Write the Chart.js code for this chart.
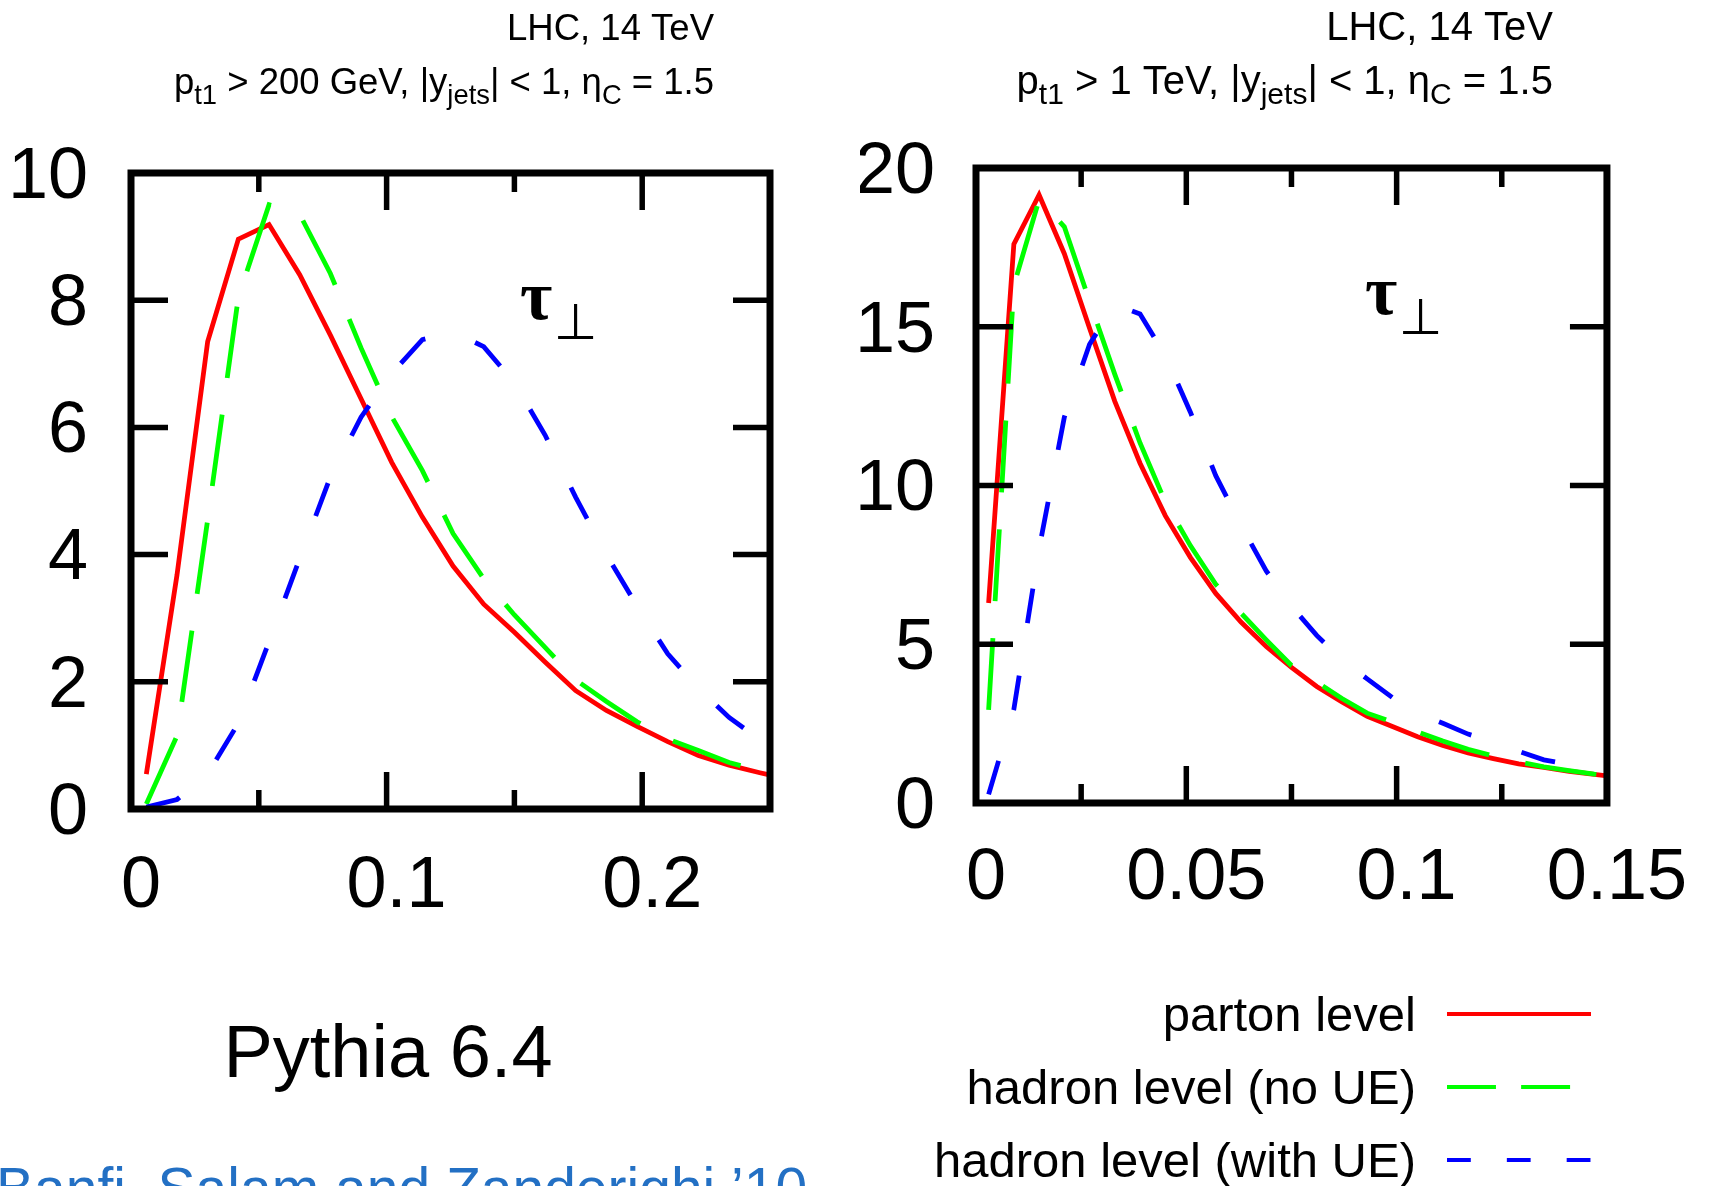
<!DOCTYPE html>
<html>
<head>
<meta charset="utf-8">
<script src="https://cdn.jsdelivr.net/npm/chart.js@4.4.1/dist/chart.umd.min.js"></script>
<style>
  html, body { margin: 0; padding: 0; background: #fff; }
  body { width: 1710px; height: 1186px; position: relative; overflow: hidden; }
  canvas { position: absolute; top: 0; }
  #chartLow { left: 0; }
  #chartHigh { left: 860px; }
</style>
</head>
<body>
<canvas id="chartLow" width="860" height="1186"></canvas>
<canvas id="chartHigh" width="850" height="1186"></canvas>
<script>
// --- values (bin centres on x) ---

// p_t1 > 200 GeV
const tauLow = [0.006, 0.018, 0.030, 0.042, 0.054, 0.066, 0.078, 0.090, 0.102, 0.114, 0.126,
  0.138, 0.150, 0.162, 0.174, 0.186, 0.198, 0.210, 0.222, 0.234, 0.246, 0.258];
const partonLow = [0.55, 3.68, 7.35, 8.96, 9.19, 8.40, 7.45, 6.45, 5.45, 4.59, 3.82,
  3.22, 2.78, 2.31, 1.86, 1.55, 1.30, 1.06, 0.84, 0.69, 0.57, 0.46];
const hadronLow = [0.08, 1.15, 4.55, 8.05, 9.50, 9.35, 8.42, 7.25, 6.17, 5.32, 4.33,
  3.62, 3.05, 2.54, 2.03, 1.69, 1.37, 1.10, 0.92, 0.73, 0.60, 0.49];
const hadronUELow = [0.03, 0.15, 0.55, 1.35, 2.63, 3.94, 5.22, 6.16, 6.85, 7.38, 7.50,
  7.27, 6.70, 5.88, 4.90, 4.00, 3.19, 2.44, 1.90, 1.44, 1.09, 0.80];

// p_t1 > 1 TeV
const tauHigh = [0.003, 0.009, 0.015, 0.021, 0.027, 0.033, 0.039, 0.045, 0.051, 0.057, 0.063,
  0.069, 0.075, 0.081, 0.087, 0.093, 0.099, 0.105, 0.111, 0.117, 0.123, 0.129, 0.135, 0.141, 0.147, 0.153];
const partonHigh = [6.3, 17.6, 19.15, 17.3, 14.95, 12.65, 10.7, 9.05, 7.73, 6.6, 5.7,
  4.93, 4.27, 3.67, 3.18, 2.73, 2.41, 2.09, 1.81, 1.58, 1.40, 1.23, 1.12, 1.00, 0.90, 0.81];
const hadronHigh = [2.93, 16.3, 19.0, 18.15, 15.8, 13.5, 11.34, 9.48, 8.1, 6.89, 5.98,
  5.14, 4.33, 3.81, 3.29, 2.83, 2.55, 2.24, 1.95, 1.69, 1.48, 1.30, 1.14, 1.02, 0.91, 0.82];
const hadronUEHigh = [0.27, 2.95, 8.0, 12.15, 14.45, 15.7, 15.4, 14.1, 12.3, 10.31, 8.75,
  7.31, 6.2, 5.28, 4.51, 3.91, 3.32, 2.83, 2.51, 2.17, 1.92, 1.63, 1.36, 1.21, 1.07, 0.95];

const seriesLabels = ['parton level', 'hadron level (no UE)', 'hadron level (with UE)'];

// axis ticks
const xTicksLow = [0, 0.1, 0.2];
const xMinorLow = [0.05, 0.15, 0.25];
const yTicksLow = [0, 2, 4, 6, 8, 10];
const xTicksHigh = [0, 0.05, 0.1, 0.15];
const xMinorHigh = [0.025, 0.075, 0.125];
const yTicksHigh = [0, 5, 10, 15, 20];

const SANS = '"Liberation Sans", Arial, Helvetica, sans-serif';
const SERIF = '"Liberation Serif", "Times New Roman", serif';
Chart.defaults.font.family = SANS;

const colors = ['#ff0000', '#00ff00', '#0000ff'];
const dashes = [[], [72, 37], [35, 53]];

function datasetsFor(xs, sets) {
  return sets.map((ys, k) => ({
    label: seriesLabels[k],
    data: xs.map((x, i) => ({ x, y: ys[i] })),
    borderColor: colors[k],
    borderWidth: 4.8,
    borderDash: dashes[k],
    pointRadius: 0,
    tension: 0,
    fill: false,
    order: 3 - k,   // blue on top, red at the bottom
  }));
}

function seg(ctx, x1, y1, x2, y2) {
  ctx.beginPath(); ctx.moveTo(x1, y1); ctx.lineTo(x2, y2); ctx.stroke();
}

// text with subscripts, right aligned at xr
function richText(ctx, parts, xr, base, size, subSize, drop) {
  let w = 0;
  parts.forEach(p => {
    ctx.font = `${p[1] ? subSize : size}px ${SANS}`;
    w += ctx.measureText(p[0]).width;
  });
  let x = xr - w;
  ctx.textAlign = 'left';
  parts.forEach(p => {
    ctx.font = `${p[1] ? subSize : size}px ${SANS}`;
    ctx.fillText(p[0], x, base + (p[1] ? drop : 0));
    x += ctx.measureText(p[0]).width;
  });
}

// frame, inward ticks on all sides, labels
const decor = {
  id: 'decor',
  afterDraw(chart, args, o) {
    const { ctx, chartArea: a, scales: { x, y } } = chart;
    ctx.save();
    ctx.strokeStyle = '#000';
    ctx.lineCap = 'butt';
    ctx.lineWidth = 5.5;
    x.ticks.forEach(t => {
      const p = x.getPixelForValue(t.value);
      seg(ctx, p, a.bottom, p, a.bottom - 37);
      seg(ctx, p, a.top, p, a.top + 37);
    });
    o.minor.forEach(v => {
      const p = x.getPixelForValue(v);
      seg(ctx, p, a.bottom, p, a.bottom - 19);
      seg(ctx, p, a.top, p, a.top + 19);
    });
    y.ticks.forEach(t => {
      const p = y.getPixelForValue(t.value);
      seg(ctx, a.left, p, a.left + 37, p);
      seg(ctx, a.right, p, a.right - 37, p);
    });
    ctx.lineWidth = 7;
    ctx.strokeRect(a.left, a.top, a.right - a.left, a.bottom - a.top);

    // titles
    const fs = o.titleSize;
    ctx.fillStyle = '#000';
    ctx.textAlign = 'right';
    ctx.font = `${fs}px ${SANS}`;
    ctx.fillText('LHC, 14 TeV', a.right + o.titleDx, 40);
    richText(ctx, o.title2, a.right + o.titleDx, 94, fs, fs * 0.75, 10);

    // tau_perp label
    ctx.textAlign = 'left';
    ctx.font = `bold 70px ${SERIF}`;
    ctx.fillText('τ', a.left + 389, a.top + 146);
    ctx.font = `50px "DejaVu Sans"`;
    ctx.fillText('⊥', a.left + 423, a.top + 166);

    if (o.legend) {
      const off = o.offsetX;
      chart.data.datasets.forEach((ds, k) => {
        const yy = 1014 + 73 * k;
        ctx.fillStyle = '#000';
        ctx.textAlign = 'right';
        ctx.font = `49px ${SANS}`;
        ctx.fillText(ds.label, 1416 - off, yy + 17);
        ctx.strokeStyle = ds.borderColor;
        ctx.lineWidth = 4;
        ctx.setLineDash(ds.borderDash.map(d => d * 0.68));
        seg(ctx, 1447 - off, yy, 1591 - off, yy);
        ctx.setLineDash([]);
      });
    }
    if (o.credits) {
      ctx.fillStyle = '#000';
      ctx.textAlign = 'center';
      ctx.font = `74px ${SANS}`;
      ctx.fillText('Pythia 6.4', 388, 1077);
      ctx.fillStyle = '#2370c4';
      ctx.textAlign = 'left';
      ctx.font = `57px ${SANS}`;
      ctx.fillText('Banfi, Salam and Zanderighi ’10', -4, 1208);
    }
    ctx.restore();
  }
};

function makeChart(id, cfg) {
  const tickFont = { size: 72, family: SANS };
  return new Chart(document.getElementById(id), {
    type: 'line',
    data: { datasets: datasetsFor(cfg.xs, cfg.sets) },
    options: {
      responsive: false,
      animation: false,
      events: [],
      layout: { padding: { top: cfg.top, right: cfg.right, left: 0, bottom: 0 } },
      plugins: {
        legend: { display: false },
        tooltip: { enabled: false },
        decor: cfg.decor,
      },
      scales: {
        x: {
          type: 'linear', min: 0, max: cfg.xMax,
          grid: { display: false, drawTicks: false },
          border: { display: false },
          afterBuildTicks: s => { s.ticks = cfg.xTicks.map(v => ({ value: v })); },
          afterFit: s => { s.height = cfg.xAxisH; },
          ticks: {
            font: tickFont, color: '#000', padding: cfg.xPad, labelOffset: 10,
            maxRotation: 0, autoSkip: false, callback: v => String(v),
          },
        },
        y: {
          min: 0, max: cfg.yMax,
          grid: { display: false, drawTicks: false },
          border: { display: false },
          afterBuildTicks: s => { s.ticks = cfg.yTicks.map(v => ({ value: v })); },
          afterFit: s => { s.width = cfg.yAxisW; },
          ticks: {
            font: tickFont, color: '#000', padding: cfg.yPad, labelOffset: 5,
            autoSkip: false, callback: v => String(v),
          },
        },
      },
    },
    plugins: [decor],
  });
}

makeChart('chartLow', {
  xs: tauLow, sets: [partonLow, hadronLow, hadronUELow],
  xMax: 0.25, yMax: 10, xTicks: xTicksLow, yTicks: yTicksLow,
  top: 173, right: 860 - 770, yAxisW: 131, xAxisH: 1186 - 809, xPad: 35, yPad: 43,
  decor: {
    minor: xMinorLow, titleDx: -56, titleSize: 36.5, credits: true,
    title2: [['p'], ['t1', 1], [' > 200 GeV, |y'], ['jets', 1], ['| < 1, η'], ['C', 1], [' = 1.5']],
  },
});

makeChart('chartHigh', {
  xs: tauHigh, sets: [partonHigh, hadronHigh, hadronUEHigh],
  xMax: 0.15, yMax: 20, xTicks: xTicksHigh, yTicks: yTicksHigh,
  top: 168, right: 850 - 751, yAxisW: 116, xAxisH: 1186 - 803, xPad: 33, yPad: 41,
  decor: {
    minor: xMinorHigh, titleDx: -54, titleSize: 40, legend: true, offsetX: 860,
    title2: [['p'], ['t1', 1], [' > 1 TeV, |y'], ['jets', 1], ['| < 1, η'], ['C', 1], [' = 1.5']],
  },
});
</script>
</body>
</html>
